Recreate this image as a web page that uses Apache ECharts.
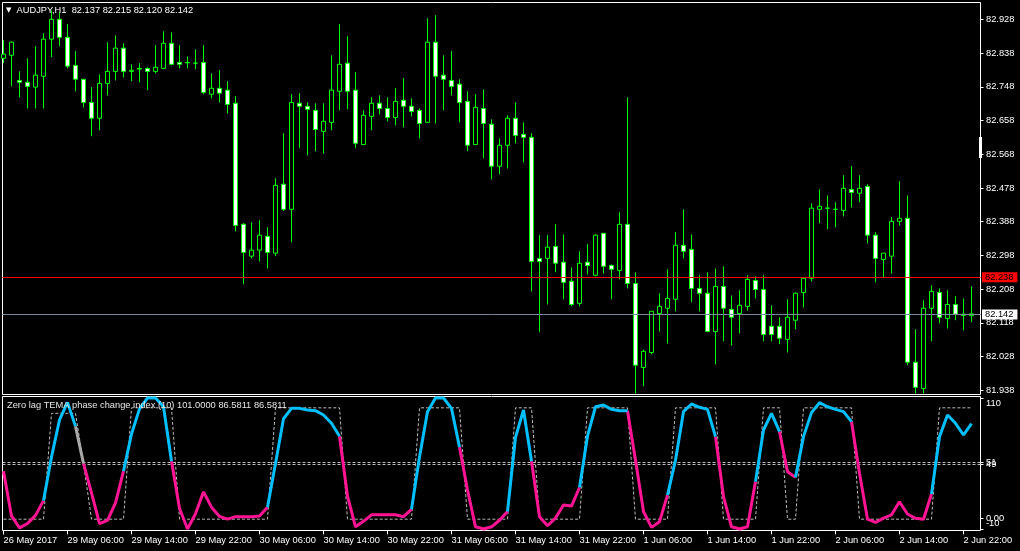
<!DOCTYPE html>
<html><head><meta charset="utf-8">
<script src="https://cdn.jsdelivr.net/npm/echarts@6/dist/echarts.min.js"></script>
<style>html,body{margin:0;padding:0;background:#000;overflow:hidden}#c{width:1020px;height:551px}</style>
</head><body><div id="c"></div>
<script>
// ---------- DATA ----------
const timeLabels = ['26 May 2017','29 May 06:00','29 May 14:00','29 May 22:00','30 May 06:00','30 May 14:00','30 May 22:00','31 May 06:00','31 May 14:00','31 May 22:00','1 Jun 06:00','1 Jun 14:00','1 Jun 22:00','2 Jun 06:00','2 Jun 14:00','2 Jun 22:00'];
const labelEvery = 8;
const priceTicks = [81.938,82.028,82.118,82.208,82.298,82.388,82.478,82.568,82.658,82.748,82.838,82.928];
const open = [82.824,82.832,82.765,82.760,82.747,82.776,82.875,82.928,82.880,82.805,82.768,82.706,82.664,82.757,82.789,82.851,82.789,82.795,82.797,82.789,82.797,82.864,82.813,82.813,82.811,82.813,82.728,82.744,82.739,82.704,82.381,82.296,82.312,82.349,82.304,82.488,82.421,82.704,82.696,82.685,82.629,82.653,82.736,82.811,82.739,82.594,82.669,82.704,82.690,82.666,82.712,82.696,82.685,82.653,82.867,82.779,82.765,82.755,82.709,82.594,82.690,82.648,82.536,82.592,82.664,82.621,82.613,82.290,82.290,82.322,82.280,82.229,82.170,82.280,82.245,82.357,82.271,82.258,82.381,82.223,81.999,82.039,82.143,82.157,82.181,82.325,82.314,82.210,82.197,82.095,82.215,82.154,82.143,82.162,82.231,82.207,82.109,82.109,82.074,82.125,82.199,82.237,82.421,82.424,82.421,82.418,82.474,82.464,82.482,82.352,82.287,82.296,82.389,82.397,82.013,81.943,82.157,82.199,82.130,82.167,82.141,82.137];
const close = [82.835,82.867,82.760,82.749,82.779,82.875,82.928,82.880,82.803,82.768,82.706,82.664,82.757,82.789,82.851,82.789,82.792,82.797,82.789,82.800,82.864,82.808,82.808,82.812,82.811,82.733,82.744,82.731,82.701,82.378,82.306,82.312,82.352,82.306,82.485,82.421,82.706,82.696,82.688,82.634,82.656,82.739,82.808,82.736,82.597,82.672,82.704,82.690,82.666,82.709,82.696,82.682,82.650,82.867,82.776,82.768,82.749,82.706,82.592,82.693,82.650,82.536,82.592,82.664,82.618,82.613,82.282,82.282,82.320,82.277,82.226,82.167,82.277,82.271,82.352,82.269,82.261,82.381,82.223,82.005,82.042,82.149,82.162,82.183,82.325,82.309,82.210,82.197,82.095,82.215,82.157,82.133,82.165,82.234,82.207,82.087,82.087,82.077,82.133,82.197,82.237,82.424,82.429,82.424,82.421,82.477,82.466,82.477,82.352,82.290,82.304,82.389,82.397,82.013,81.946,82.157,82.202,82.133,82.167,82.141,82.138,82.142];
const high = [82.872,82.869,82.789,82.824,82.856,82.891,82.952,82.947,82.915,82.843,82.768,82.747,82.781,82.867,82.885,82.864,82.808,82.811,82.800,82.859,82.896,82.893,82.859,82.829,82.848,82.859,82.784,82.792,82.763,82.723,82.384,82.386,82.392,82.373,82.504,82.624,82.728,82.731,82.706,82.704,82.704,82.832,82.915,82.883,82.787,82.685,82.720,82.725,82.720,82.744,82.771,82.717,82.690,82.931,82.939,82.832,82.843,82.768,82.736,82.728,82.741,82.661,82.610,82.672,82.706,82.653,82.624,82.352,82.352,82.381,82.354,82.266,82.309,82.328,82.354,82.357,82.274,82.413,82.720,82.253,82.047,82.149,82.197,82.261,82.360,82.421,82.354,82.245,82.253,82.263,82.269,82.191,82.205,82.245,82.242,82.245,82.165,82.133,82.181,82.199,82.239,82.437,82.474,82.458,82.440,82.512,82.536,82.512,82.488,82.360,82.304,82.400,82.496,82.458,82.101,82.178,82.218,82.210,82.205,82.189,82.183,82.215];
const low = [82.811,82.749,82.720,82.690,82.690,82.690,82.827,82.856,82.797,82.736,82.693,82.616,82.632,82.725,82.765,82.773,82.763,82.760,82.739,82.784,82.795,82.805,82.797,82.797,82.795,82.728,82.717,82.706,82.677,82.362,82.221,82.290,82.282,82.263,82.296,82.416,82.333,82.584,82.565,82.576,82.570,82.632,82.685,82.688,82.584,82.592,82.632,82.674,82.656,82.645,82.640,82.669,82.610,82.653,82.650,82.685,82.725,82.653,82.576,82.592,82.557,82.501,82.514,82.530,82.597,82.546,82.202,82.093,82.167,82.253,82.181,82.162,82.162,82.247,82.242,82.250,82.181,82.234,82.210,81.930,81.949,82.034,82.095,82.063,82.149,82.290,82.173,82.149,82.093,82.007,82.069,82.058,82.090,82.151,82.183,82.069,82.069,82.061,82.039,82.101,82.159,82.229,82.384,82.368,82.373,82.402,82.426,82.440,82.330,82.226,82.239,82.250,82.378,82.005,81.930,81.930,82.069,82.117,82.103,82.125,82.098,82.120];
const askPrice = 82.238;
const bidPrice = 82.142;
const temaValues = [43,2,-9,-5,2.5,16,56,90,106,84,50,23,-5,-2,14,43,77,100,110,110,102,52,9,-10,4,24,10,1.5,-1,1.3,1.3,1.3,2,10,50,91,100.5,100.5,99,98.4,94.4,86.8,75,20,-8,-3,3,3,3,3,1.3,8,56,97.5,110,110,100.5,65,25.7,-8,-10,-8,-2,6,74,99,52,1.3,-7,0,12,11,28,75,102,103.6,99.6,98.4,98.4,53,6,-8.5,-3.3,21,53,97.5,104.5,101.5,99.6,74.6,19.6,-8,-10,-8,33.4,80.7,96,79.2,42.5,37.3,74.6,96.6,105.7,102,99.6,97.5,88.3,41,-1,-4,0,3,15,3.7,-0.2,-1.1,22,74.6,94.4,86.8,76.1,86.58];
const phaseValues = [-1,-1,-1,-1,-1,-1,96,96,96,96,50,-1,-1,-1,-1,-1,101,101,101,101,101,101,-1,-1,-1,-1,-1,-1,-1,-1,-1,-1,-1,-1,101,101,101,101,101,101,101,101,101,-1,-1,-1,-1,-1,-1,-1,-1,-1,101,101,101,101,101,101,-1,-1,-1,-1,-1,-1,101,101,101,-1,-1,-1,-1,-1,-1,101,101,101,101,101,101,-1,-1,-1,-1,-1,101,101,101,101,101,101,-1,-1,-1,-1,-1,101,101,101,-1,-1,101,101,101,101,101,101,101,-1,-1,-1,-1,-1,-1,-1,-1,-1,-1,101,101,101,101,101];
const indicatorLevels = [49, 51];
const indicatorTicks = [0, 49, 51, 110];
const indicatorTickLabels = ['0.00', '49', '51', '110'];
const indicatorMinTick = -10;
const indicatorMinLabel = '-10';

// ---------- CHART ----------
const FONT = '"Liberation Sans", Arial, sans-serif';
const FS = 9.3;
const chart = echarts.init(document.getElementById('c'), null, {renderer: 'canvas'});
const candleData = open.map((o, i) => [i, o, close[i], low[i], high[i]]);
const labelBars = timeLabels.map((_, i) => i * labelEvery);
const xMin = -0.125, xMax = 122.125;
const indMin = -11.374, indMax = 111.374;

function stateColor(v) {
  if (v > 75) return '#00BFFF';
  if (v < 25) return '#FF1493';
  return '#A9A9A9';
}
const colorSeriesData = {};
for (let k = 0; k < temaValues.length - 1; k++) {
  const c = stateColor(phaseValues[k + 1]);
  if (!colorSeriesData[c]) colorSeriesData[c] = {data: [], last: -99};
  const s = colorSeriesData[c];
  if (s.last !== k) {
    if (s.data.length) s.data.push([k - 0.5, null]);
    s.data.push([k, temaValues[k]]);
  }
  s.data.push([k + 1, temaValues[k + 1]]);
  s.last = k + 1;
}
const colorSeries = Object.keys(colorSeriesData).map(c => ({
  type: 'line', xAxisIndex: 1, yAxisIndex: 1, data: colorSeriesData[c].data,
  showSymbol: false, symbol: 'none', connectNulls: false, silent: true, z: 5,
  lineStyle: {color: c, width: 3}
}));

const txt = {color: '#ffffff', fontSize: FS, fontFamily: FONT};
const noLine = {show: false, onZero: false};
const option = {
  backgroundColor: '#000000',
  animation: false,
  title: [
    {left: 6, top: 5, padding: 0, text: '{t|▼}  AUDJPY,H1  82.137 82.215 82.120 82.142',
      textStyle: {color: '#ffffff', fontSize: FS, fontFamily: FONT, fontWeight: 'normal', lineHeight: 11,
        rich: {t: {fontSize: 7, color: '#ffffff', fontFamily: '"DejaVu Sans"', lineHeight: 11}}}},
    {left: 7, top: 400, padding: 0, text: 'Zero lag TEMA phase change index (10) 101.0000 86.5811 86.5811',
      textStyle: {color: '#e6e6e6', fontSize: FS, fontFamily: FONT, fontWeight: 'normal', lineHeight: 11}}
  ],
  grid: [
    {left: 2.5, right: 39.5, top: 2.5, height: 392, show: true, borderColor: '#ffffff', borderWidth: 1, containLabel: false},
    {left: 2.5, right: 39.5, top: 396.5, height: 134, show: true, borderColor: '#ffffff', borderWidth: 1, containLabel: false}
  ],
  graphic: [
    {type: 'rect', left: 979, top: 137, shape: {width: 3, height: 21}, style: {fill: '#ffffff'}, silent: true}
  ],
  xAxis: [
    {type: 'value', gridIndex: 0, min: xMin, max: xMax, axisLine: noLine, axisTick: {show: false}, axisLabel: {show: false}, splitLine: {show: false}},
    {type: 'value', gridIndex: 1, position: 'bottom', min: xMin, max: xMax, axisLine: noLine,
      axisTick: {show: true, customValues: labelBars, length: 4, lineStyle: {color: '#ffffff'}},
      axisLabel: Object.assign({customValues: labelBars, align: 'left', margin: 4, lineHeight: 11, showMinLabel: true, showMaxLabel: true,
        formatter: v => { const i = labelBars.indexOf(Math.round(v)); return i >= 0 ? timeLabels[i] : ''; }}, txt),
      splitLine: {show: false}}
  ],
  yAxis: [
    {type: 'value', gridIndex: 0, position: 'right', min: 81.9268, max: 82.97283, axisLine: noLine,
      axisTick: {show: true, customValues: priceTicks, length: 3, lineStyle: {color: '#ffffff'}},
      axisLabel: Object.assign({customValues: priceTicks, margin: 5.5, showMinLabel: true, showMaxLabel: true, formatter: v => v.toFixed(3)}, txt),
      splitLine: {show: false}},
    {type: 'value', gridIndex: 1, position: 'right', min: indMin, max: indMax, axisLine: noLine,
      axisTick: {show: true, customValues: indicatorTicks, length: 3, lineStyle: {color: '#ffffff'}},
      axisLabel: Object.assign({customValues: indicatorTicks, margin: 5.5, showMinLabel: true, showMaxLabel: true,
        formatter: v => {
          const i = indicatorTicks.indexOf(Math.round(v));
          const s = i >= 0 ? indicatorTickLabels[i] : '';
          if (Math.round(v) === 110) return '{top|' + s + '}';
          return s;
        },
        rich: {
          top: {padding: [11, 0, 0, 0], color: '#ffffff', fontSize: FS, fontFamily: FONT}
        }}, txt),
      splitLine: {show: false}},
    {type: 'value', gridIndex: 1, position: 'right', offset: 0, min: indMin, max: indMax, axisLine: noLine,
      axisTick: {show: true, customValues: [indicatorMinTick], length: 3, lineStyle: {color: '#ffffff'}},
      axisLabel: Object.assign({customValues: [indicatorMinTick], margin: 5.5, showMinLabel: true, showMaxLabel: true,
        formatter: () => '{bot|' + indicatorMinLabel + '}',
        rich: {
          bot: {padding: [0, 0, 11, 0], color: '#ffffff', fontSize: FS, fontFamily: FONT}
        }}, txt),
      splitLine: {show: false}}
  ],
  series: [
    {type: 'candlestick', xAxisIndex: 0, yAxisIndex: 0, data: candleData, barWidth: 4, silent: true,
      itemStyle: {color: '#000000', color0: '#ffffff', borderColor: '#00ff00', borderColor0: '#00ff00', borderColorDoji: '#00ff00', borderWidth: 1},
      markLine: {symbol: ['none', 'none'], silent: true, animation: false,
        data: [
          {yAxis: askPrice, lineStyle: {color: '#ff0000', width: 1, type: 'solid'},
            label: {show: true, position: 'end', distance: 1.5, formatter: askPrice.toFixed(3), backgroundColor: '#ff0000', color: '#000000', padding: [1, 4, 0, 3], fontSize: FS, fontFamily: FONT}},
          {yAxis: bidPrice, lineStyle: {color: '#778899', width: 1, type: 'solid'},
            label: {show: true, position: 'end', distance: 1.5, formatter: bidPrice.toFixed(3), backgroundColor: '#ffffff', color: '#000000', padding: [1, 4, 0, 3], fontSize: FS, fontFamily: FONT}}
        ]}},
    {type: 'line', xAxisIndex: 1, yAxisIndex: 1, data: phaseValues.map((v, i) => [i, v]), showSymbol: false, symbol: 'none', silent: true, z: 3,
      lineStyle: {color: '#bdbdbd', width: 1, type: [3, 2]},
      markLine: {symbol: ['none', 'none'], silent: true, animation: false, label: {show: false},
        lineStyle: {color: '#bdbdbd', width: 1, type: [3, 2]},
        data: indicatorLevels.map(v => ({yAxis: v}))}}
  ].concat(colorSeries)
};
chart.setOption(option);
</script></body></html>
